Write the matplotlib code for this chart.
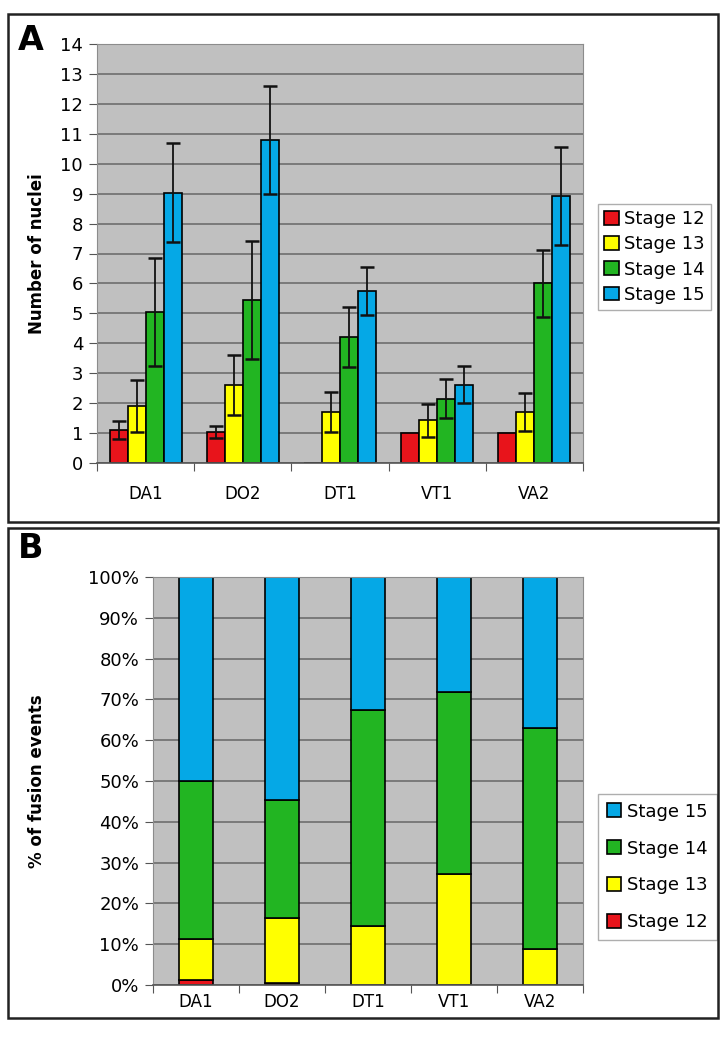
import numpy as np
import matplotlib.pyplot as plt
from matplotlib.patches import Rectangle

# 数据
groups = ['DA1', 'DO2', 'DT1', 'VT1', 'VA2']
stages = ['Stage 12', 'Stage 13', 'Stage 14', 'Stage 15']
colors = ['#e8141b', '#ffff00', '#22b522', '#05a8e6']

# 图 A：平均核数和误差
nuclei_s12 = [1.1, 1.05, 0.0, 1.0, 1.0]
nuclei_s13 = [1.9, 2.6, 1.7, 1.43, 1.7]
nuclei_s14 = [5.05, 5.45, 4.22, 2.15, 6.0]
nuclei_s15 = [9.03, 10.78, 5.75, 2.62, 8.93]
err_s12 = [0.3, 0.2, 0.0, 0.0, 0.0]
err_s13 = [0.88, 1.0, 0.67, 0.55, 0.63]
err_s14 = [1.8, 1.97, 1.0, 0.65, 1.12]
err_s15 = [1.65, 1.8, 0.8, 0.63, 1.64]

# 图 B：融合事件百分比
pct_s12 = [1.3, 0.4, 0.0, 0.0, 0.0]
pct_s13 = [9.9, 15.9, 14.4, 27.1, 8.9]
pct_s14 = [38.8, 29.0, 53.1, 44.6, 54.0]
pct_s15 = [50.0, 54.7, 32.5, 28.3, 37.1]

plt.rcParams['font.family'] = ['DejaVu Sans']
FS = 12

fig = plt.figure(figsize=(7.27, 10.5), dpi=100)

# 外框
for (x0, y0, w, h) in [(8, 14, 710, 508), (8, 528, 710, 490)]:
    fig.patches.append(Rectangle((x0 / 727, 1 - (y0 + h) / 1050), w / 727, h / 1050,
                                 transform=fig.transFigure, fill=False,
                                 edgecolor='#222222', linewidth=1.8))

def style_axes(ax, xpad):
    ax.set_facecolor('#c0c0c0')
    ax.set_axisbelow(True)
    ax.yaxis.grid(True, color='#6e6e6e', linewidth=1.2)
    for s in ['top', 'right', 'left']:
        ax.spines[s].set_color('#8c8c8c')
    ax.spines['bottom'].set_color('#555555')
    ax.spines['bottom'].set_linewidth(1.2)
    x = np.arange(len(groups))
    ax.set_xlim(-0.5, len(groups) - 0.5)
    ax.set_xticks(np.arange(len(groups) + 1) - 0.5)
    ax.set_xticklabels([])
    ax.set_xticks(x, minor=True)
    ax.set_xticklabels(groups, minor=True, fontsize=FS)
    ax.tick_params(axis='x', which='major', length=6, color='#555555')
    ax.tick_params(axis='x', which='minor', length=0, pad=xpad)
    ax.tick_params(axis='y', length=6, color='#555555', labelsize=FS + 1, pad=4)

# ---- A ----
axA = fig.add_axes([97 / 727, 1 - 463 / 1050, 486 / 727, 419 / 1050])
style_axes(axA, 16)
x = np.arange(len(groups))
w = 0.185
valsA = [nuclei_s12, nuclei_s13, nuclei_s14, nuclei_s15]
errsA = [err_s12, err_s13, err_s14, err_s15]
for i, (v, e) in enumerate(zip(valsA, errsA)):
    pos = x + (i - 1.5) * w
    axA.bar(pos, v, w, color=colors[i], edgecolor='black', linewidth=1.2, label=stages[i])
    e = np.array(e)
    m = e > 0
    axA.errorbar(pos[m], np.array(v)[m], yerr=e[m], fmt='none', ecolor='#111111',
                 elinewidth=1.3, capsize=5, capthick=1.8)
axA.set_ylim(0, 14)
axA.set_yticks(range(0, 15))
axA.set_ylabel('Number of nuclei', fontsize=FS, fontweight='bold', labelpad=10)
axA.legend(loc='center left', bbox_to_anchor=(598 / 727, 1 - 257 / 1050),
           bbox_transform=fig.transFigure, fontsize=FS + 1, frameon=True,
           fancybox=False, edgecolor='#9a9a9a', handlelength=0.8,
           handleheight=0.8, handletextpad=0.3, labelspacing=0.4,
           borderpad=0.35, borderaxespad=0)
fig.text(18 / 727, 1 - 40 / 1050, 'A', fontsize=24, fontweight='bold', va='center')

# ---- B ----
axB = fig.add_axes([153 / 727, 1 - 985 / 1050, 430 / 727, 408 / 1050])
style_axes(axB, 6)
valsB = [pct_s12, pct_s13, pct_s14, pct_s15]
bottom = np.zeros(len(groups))
handles = []
for i, v in enumerate(valsB):
    h = axB.bar(x, v, 0.4, bottom=bottom, color=colors[i], edgecolor='black',
                linewidth=1.2, label=stages[i])
    handles.append(h)
    bottom += np.array(v)
axB.set_ylim(0, 100)
axB.set_yticks(range(0, 101, 10))
axB.set_yticklabels([f'{t}%' for t in range(0, 101, 10)])
axB.set_ylabel('% of fusion events', fontsize=FS, fontweight='bold', labelpad=30)
axB.legend(handles[::-1], stages[::-1], loc='center left',
           bbox_to_anchor=(598 / 727, 1 - 867 / 1050),
           bbox_transform=fig.transFigure, fontsize=FS + 1, frameon=True,
           fancybox=False, edgecolor='#9a9a9a', handlelength=0.8,
           handleheight=0.8, handletextpad=0.3, labelspacing=1.05,
           borderpad=0.5, borderaxespad=0)
fig.text(18 / 727, 1 - 548 / 1050, 'B', fontsize=24, fontweight='bold', va='center')

fig.savefig('out.png', dpi=100)
